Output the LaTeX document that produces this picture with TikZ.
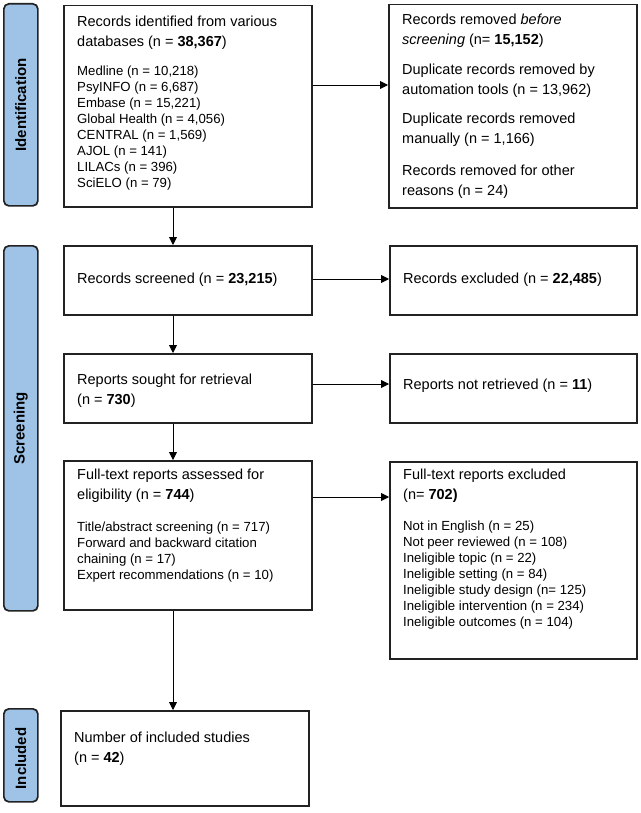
\documentclass[tikz,border=0pt]{standalone}
\usepackage{fontspec}
\setmainfont{Liberation Sans}
\usetikzlibrary{arrows.meta}
\definecolor{barblue}{HTML}{9FC3E7}
\definecolor{boxline}{HTML}{222222}
\begin{document}
\begin{tikzpicture}[x=1pt,y=-1pt,
 box/.style={draw=boxline, line width=1.5pt, inner sep=0pt, anchor=north west},
 bar/.style={draw=boxline, fill=barblue, line width=1.7pt, rounded corners=5pt, inner sep=0pt, anchor=north west, minimum width=34pt},
 hd/.style={anchor=north west, inner sep=0pt, align=left, font=\fontsize{14.5}{20}\selectfont},
 hdw/.style={anchor=west, inner sep=0pt, align=left, font=\fontsize{14.5}{20}\selectfont},
 ls/.style={anchor=north west, inner sep=0pt, align=left, font=\fontsize{13.2}{16}\selectfont},
 lab/.style={rotate=90, font=\fontsize{15}{17}\selectfont\bfseries},
 arr/.style={draw=black, line width=0.9pt, -{Triangle[length=8pt,width=8pt]}}]
\useasboundingbox (0,0) rectangle (640,813);

% side bars
\node[bar, minimum height=202pt] (s1) at (3,3) {};
\node[lab] (t1) at (s1.center) {Identification};
\node[bar, minimum height=365pt] (s2) at (3,245) {};
\node[lab] (t2) at (s2.center) {Screening};
\node[bar, minimum height=93pt] (s3) at (3,708) {};
\node[lab] (t3) at ([yshift=-3pt]s3.center) {Included};

% boxes
\node[box, minimum width=248pt, minimum height=201pt] (b1) at (63,5) {};
\node[box, minimum width=248pt, minimum height=203pt] (rm) at (388,4) {};
\node[box, minimum width=248pt, minimum height=69pt] (sc) at (63,245) {};
\node[box, minimum width=247pt, minimum height=69pt] (ex) at (389,245) {};
\node[box, minimum width=248pt, minimum height=69pt] (rs) at (63,353) {};
\node[box, minimum width=247pt, minimum height=69pt] (nr) at (389,353) {};
\node[box, minimum width=248pt, minimum height=149pt] (ft) at (63,460) {};
\node[box, minimum width=247pt, minimum height=197pt] (fx) at (389,461) {};
\node[box, minimum width=248pt, minimum height=95pt] (inc) at (60,710) {};

% texts
\node[hd] (b1h) at (77,16) {Records identified from various\\databases (n = \textbf{38,367})};
\node[ls] (b1l) at (77,66) {Medline (n = 10,218)\\PsyINFO (n = 6,687)\\Embase (n = 15,221)\\Global Health (n = 4,056)\\CENTRAL (n = 1,569)\\AJOL (n = 141)\\LILACs (n = 396)\\SciELO (n = 79)};

\node[hd] (rm1) at (402,14) {Records removed \textit{before}\\\textit{screening} (n= \textbf{15,152})};
\node[hd] (rm2) at (402,64) {Duplicate records removed by\\automation tools (n = 13,962)};
\node[hd] (rm3) at (402,113) {Duplicate records removed\\manually (n = 1,166)};
\node[hd] (rm4) at (402,165) {Records removed for other\\reasons (n = 24)};

\node[hdw] (sct) at (77,279.5) {Records screened (n = \textbf{23,215})};
\node[hdw] (ext) at (403,279.5) {Records excluded (n = \textbf{22,485})};
\node[hd] (rst) at (77,374) {Reports sought for retrieval\\(n = \textbf{730})};
\node[hdw] (nrt) at (403,386) {Reports not retrieved (n = \textbf{11})};

\node[hd] (fth) at (77,469) {Full-text reports assessed for\\eligibility (n = \textbf{744})};
\node[ls] (ftl) at (77,522) {Title/abstract screening (n = 717)\\Forward and backward citation\\chaining (n = 17)\\Expert recommendations (n = 10)};

\node[hd] (fxh) at (403,469) {Full-text reports excluded\\(n= \textbf{702)}};
\node[ls] (fxl) at (403,521) {Not in English (n = 25)\\Not peer reviewed (n = 108)\\Ineligible topic (n = 22)\\Ineligible setting (n = 84)\\Ineligible study design (n= 125)\\Ineligible intervention (n = 234)\\Ineligible outcomes (n = 104)};

\node[hd] (inct) at (74,732) {Number of included studies\\(n = \textbf{42})};

% connectors
\coordinate (xv) at (173,0);
\coordinate (y1) at (0,85);
\coordinate (y2) at (0,279);
\coordinate (y3) at (0,384);
\coordinate (y4) at (0,497);
\draw[arr] (b1.east |- y1) -- (rm.west |- y1);
\draw[arr] (sc.east |- y2) -- (ex.west |- y2);
\draw[arr] (rs.east |- y3) -- (nr.west |- y3);
\draw[arr] (ft.east |- y4) -- (fx.west |- y4);
\draw[arr] (b1.south -| xv) -- (sc.north -| xv);
\draw[arr] (sc.south -| xv) -- (rs.north -| xv);
\draw[arr] (rs.south -| xv) -- (ft.north -| xv);
\draw[arr] (ft.south -| xv) -- (inc.north -| xv);
\end{tikzpicture}
\end{document}
